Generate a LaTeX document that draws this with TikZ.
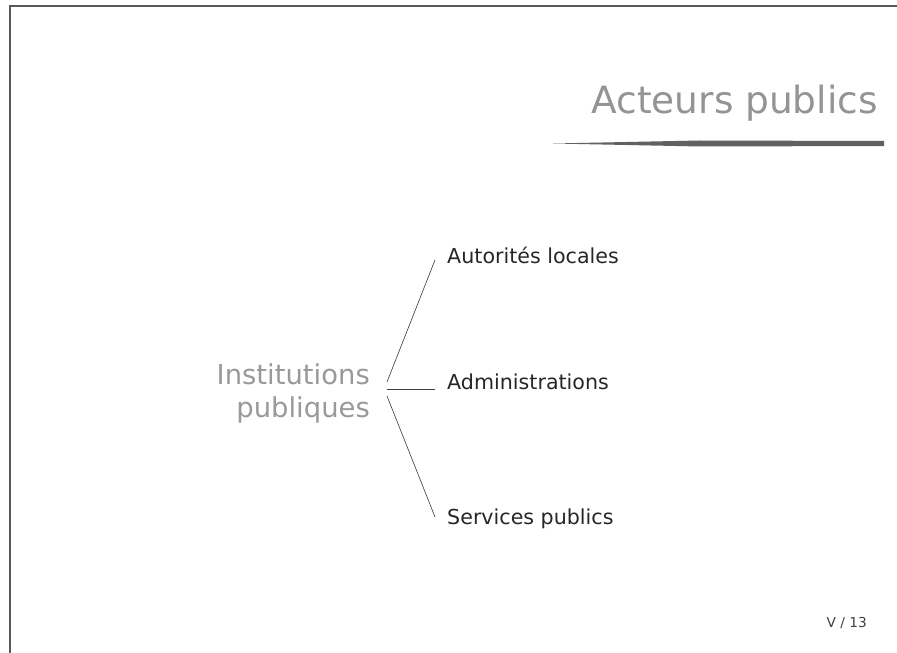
\documentclass[tikz,border=0pt]{standalone}
\usepackage{fontspec}
\setmainfont{DejaVu Sans}
\begin{document}
\begin{tikzpicture}[x=0.03cm,y=-0.03cm,
    branche/.style={anchor=base west,inner sep=0pt,text=black!85,font=\fontsize{17.6}{20}\selectfont},
    trait/.style={draw=black!75,line width=0.55pt}]
    \useasboundingbox (0,0) rectangle (897,653);
    % cadre de la page
    \draw[black!65,line width=1pt] (10,653) -- (10,6) -- (897,6);
    % titre
    \node[anchor=base east,inner sep=0pt,text=black!42,font=\fontsize{32}{36}\selectfont] (titre) at (878,114) {Acteurs publics};
    \fill[black!62] (553,143.5) -- (700,140.5) -- (884,141) -- (884,146) -- (700,146.5) -- cycle;
    % arbre
    \node[anchor=north east,inner sep=0pt,align=right,text=black!40,font=\fontsize{23.4}{28.2}\selectfont] (inst) at (370,363) {Institutions\\publiques};
    \coordinate (hub) at (387,389);
    \node[branche] (aut) at (447,263) {Autorités locales};
    \node[branche] (adm) at (447,389) {Administrations};
    \node[branche] (ser) at (447,524) {Services publics};
    \foreach \nom/\a/\b in {aut/-7/-3, adm/0/0, ser/7/-7}
        \draw[trait] ([shift={(0,\a)}]hub) -- ([shift={(-12,\b)}]\nom.base west);
    % numero de page
    \node[anchor=base east,inner sep=0pt,text=black!75,font=\fontsize{11.7}{14}\selectfont] (page) at (867,627) {V / 13};
\end{tikzpicture}
\end{document}
